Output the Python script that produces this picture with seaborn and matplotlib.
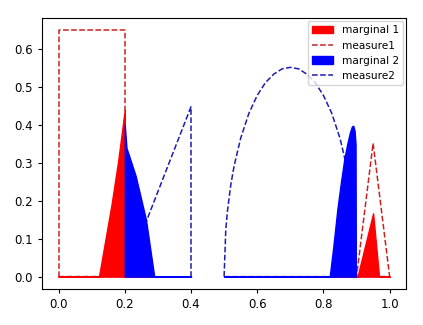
import pandas as pd
import matplotlib
matplotlib.use("Agg")
import matplotlib.pyplot as plt
import seaborn as sns

# measure1 (red dashed), two pieces: [0, 0.4] and [0.5, 1]
m1_xa = [0.0, 0.0, 0.2, 0.2, 0.4]
m1_ya = [0.0, 0.65, 0.65, 0.0, 0.0]
m1_xb = [0.5, 0.9, 0.95, 1.0]
m1_yb = [0.0, 0.0, 0.352, 0.0]

# measure2 (blue dashed)
m2_xa = [0.0, 0.2, 0.4, 0.4]
m2_ya = [0.0, 0.0, 0.448, 0.0]
m2_xb = [0.5, 0.505, 0.51, 0.52, 0.53, 0.55, 0.575, 0.6, 0.625, 0.65, 0.675, 0.7,
         0.725, 0.75, 0.775, 0.8, 0.825, 0.85, 0.87, 0.88, 0.89, 0.895, 0.9, 1.0]
m2_yb = [0.0, 0.123, 0.172, 0.241, 0.291, 0.365, 0.431, 0.478, 0.512, 0.534, 0.548, 0.552,
         0.548, 0.534, 0.512, 0.478, 0.431, 0.365, 0.291, 0.241, 0.172, 0.123, 0.0, 0.0]

# marginal 1 (red fill)
g1_xa = [0.0, 0.122, 0.14, 0.16, 0.18, 0.2, 0.2, 0.4]
g1_ya = [0.0, 0.0, 0.09, 0.19, 0.305, 0.44, 0.0, 0.0]
g1_xb = [0.5, 0.903, 0.95, 0.968, 1.0]
g1_yb = [0.0, 0.0, 0.167, 0.0, 0.0]

# marginal 2 (blue fill)
g2_xa = [0.2, 0.2, 0.205, 0.233, 0.264, 0.289, 0.4]
g2_ya = [0.0, 0.40, 0.34, 0.265, 0.15, 0.0, 0.0]
g2_xb = [0.5, 0.819, 0.83, 0.842, 0.853, 0.863, 0.872, 0.88, 0.886, 0.89, 0.894, 0.897, 0.898]
g2_yb = [0.0, 0.0, 0.08, 0.177, 0.25, 0.31, 0.35, 0.38, 0.396, 0.398, 0.385, 0.35, 0.0]

plt.rcParams["font.size"] = 8.5
fig = plt.figure(figsize=(4.23, 3.25), dpi=100)
ax = fig.add_axes([0.0993, 0.111, 0.861, 0.834])

red_line = "#cc2222"
blue_line = "#1c1cb0"

def dashed(xs, ys, color, label=None):
    df = pd.DataFrame({"x": xs, "y": ys})
    sns.lineplot(data=df, x="x", y="y", sort=False, estimator=None, ax=ax,
                 color=color, linestyle="--", linewidth=1.1, label=label)

dashed(m2_xa, m2_ya, blue_line, "measure2")
dashed(m2_xb, m2_yb, blue_line)
dashed(m1_xa, m1_ya, red_line, "measure1")
dashed(m1_xb, m1_yb, red_line)

ax.fill_between(g1_xa, g1_ya, color="red", linewidth=1.0, zorder=3, label="marginal 1")
ax.fill_between(g1_xb, g1_yb, color="red", linewidth=1.0, zorder=3)
ax.fill_between(g2_xa, g2_ya, color="blue", linewidth=1.0, zorder=3, label="marginal 2")
ax.fill_between(g2_xb, g2_yb, color="blue", linewidth=1.0, zorder=3)

handles, labels = ax.get_legend_handles_labels()
lookup = dict(zip(labels, handles))
order = ["marginal 1", "measure1", "marginal 2", "measure2"]
ax.legend([lookup[k] for k in order], order, loc="upper right", fontsize=7.6,
          borderaxespad=0.3)

ax.set_xlabel("")
ax.set_ylabel("")
ax.set_xticks([0.0, 0.2, 0.4, 0.6, 0.8, 1.0])
ax.tick_params(length=3)
ax.set_xlim(-0.05, 1.05)
ax.set_ylim(-0.0325, 0.6825)

fig.savefig("out.png", dpi=100)
